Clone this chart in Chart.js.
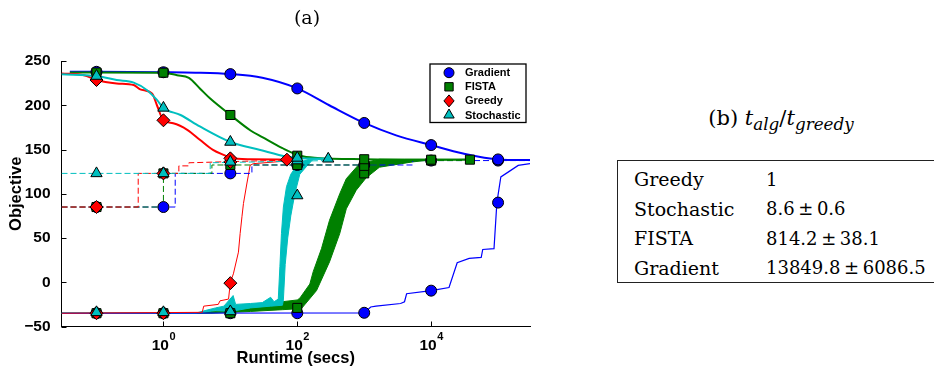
<!DOCTYPE html>
<html>
<head>
<meta charset="utf-8">
<script src="https://cdn.jsdelivr.net/npm/chart.js@4.4.1/dist/chart.umd.min.js"></script>
<style>
  html, body { margin: 0; padding: 0; background: #fff; }
  #page { position: relative; width: 934px; height: 368px; overflow: hidden; }
  #plot { position: absolute; left: 0; top: 0; width: 560px; height: 368px; }
  .serif { position: absolute; font-family: "DejaVu Serif", serif; font-size: 19px; color: #000; white-space: nowrap; line-height: 1; }
  .serif sub { font-size: 0.8em; vertical-align: -0.3em; }
  .num { font-size: 18px; }
  #tbl { position: absolute; left: 617px; top: 160px; width: 340px; height: 121px; border: 1.3px solid #222; }
</style>
</head>
<body>
<div id="page">
  <div id="plot"><canvas id="chart"></canvas></div>
  <div class="serif" style="left:307px; top:17px; transform:translate(-50%,-50%);">(a)</div>
  <div class="serif" style="left:781px; top:108px; font-size:21px; transform:translateX(-50%);">(b) <i>t</i><sub><i>alg</i></sub>/<i>t</i><sub><i>greedy</i></sub></div>
  <div id="tbl"></div>
</div>
<script>
// --- series (runtime in secs, objective) ---
const seriesNames = ["Gradient", "FISTA", "Greedy", "Stochastic"];

// thick curves
const gradT = [0.04, 0.1, 1, 3, 10, 30, 100, 300, 1000, 3000, 1e4, 3e4, 1e5, 3e5];
const gradV = [237.8, 237.8, 237.3, 236.8, 235.2, 231, 219, 200, 180, 166, 155, 145.5, 138.8, 138];
const fistaT = [0.04, 0.1, 1, 1.6, 2.4, 3.5, 5, 10, 20, 30, 60, 110, 200, 1000, 1e4, 3.8e4];
const fistaV = [237, 237, 236.8, 234, 231, 219, 207.5, 189, 171.5, 164, 151.5, 143, 140.5, 139, 138.5, 138.5];
const greedyT = [0.03, 0.065, 0.1, 0.2, 0.36, 0.45, 0.68, 0.8, 1, 1.4, 2.3, 3.5, 5.5, 9, 10, 20, 70];
const greedyV = [236, 234, 228.5, 224.7, 222.8, 218, 213, 200, 183, 179.6, 172, 161, 149.5, 142, 140, 139, 138.5];
const stochT = [0.03, 0.1, 0.2, 0.36, 0.57, 0.8, 1, 1.8, 3.5, 10, 28, 70, 100, 290];
const stochV = [235, 233, 228.5, 225.5, 217, 206, 197, 189, 176, 158.5, 149.5, 142, 140.5, 139.5];

// dashed step curves
const blueDashT = [0.03, 1.5, 1.5, 21, 21, 5300, 5300, 3e5];
const blueDashV = [85, 85, 123, 123, 132.5, 132.5, 137.5, 137.5];
const greenDashT = [0.03, 1, 1, 5.3, 5.3, 1500, 1500, 3.8e4];
const greenDashV = [85, 85, 123, 123, 132.5, 132.5, 137.5, 137.5];
const redDashT = [0.03, 0.42, 0.42, 1.7, 1.7, 2.4, 2.4, 70];
const redDashV = [85, 85, 123, 123, 131.5, 131.5, 135, 138];
const cyanDashT = [0.03, 5, 5, 290];
const cyanDashV = [123, 123, 135, 137.5];

// thin rising curves
const blueLowT = [0.03, 1000, 1250, 1500, 3500, 4000, 4300, 1e4, 1.85e4, 2.45e4, 3.7e4, 5.6e4, 5.9e4, 8.7e4, 9.6e4, 1.1e5, 1.45e5, 2e5, 3e5];
const blueLowV = [-35, -34.5, -28, -27, -24, -22, -13, -9.5, -6, 22, 27, 28, 37, 38, 90, 119, 125, 132, 134];
const redLowT = [0.03, 3.8, 4, 6.6, 7, 9.4, 10, 11.1, 13.2, 14, 14.9, 15.7, 17.6, 18.6, 19.7, 22, 70];
const redLowV = [-35, -34, -27, -25, -21, -19, 0, 9.5, 34, 55, 74, 89, 111, 121, 132, 134, 137];

// noisy bands (upper / lower edges)
const cyanUpT = [0.03, 3, 4.2, 6, 8, 11, 12, 20, 30, 40, 45, 52, 55, 58, 62, 69, 80, 105, 150, 290];
const cyanUpV = [-35, -35, -32, -29, -27, -15, -25, -24, -23, -17, -22, -19, 18, 55, 85, 108, 122, 135, 139, 139.5];
const cyanLoT = [0.03, 3, 6, 10, 20, 40, 60, 62, 66, 72, 80, 92, 109, 138, 173, 290];
const cyanLoV = [-35, -35, -32, -33, -29, -27, -26, -20, 20, 50, 75, 100, 122, 131, 139, 139.5];
const greenUpT = [0.03, 3, 5, 10, 20, 40, 60, 100, 109, 154, 173, 230, 303, 431, 540, 852, 1690, 4000, 3.8e4];
const greenUpV = [-35, -35, -33, -32, -29, -25, -22, -20, -18, -2, 12, 38, 70, 100, 117, 134, 139, 139, 139];
const greenLoT = [0.03, 5, 20, 60, 100, 109, 194, 303, 431, 540, 760, 1070, 1690, 5300, 9400, 3.8e4];
const greenLoV = [-35, -35, -33, -31, -30, -32, -9.4, 23, 55, 83, 104, 118, 130, 136, 138, 139];

// markers
const gradMarkT = [0.1, 1, 10, 100, 1000, 1e4, 1e5];
const gradMarkV = [237.8, 237.3, 235.2, 219, 180, 155, 138.8];
const fistaMarkT = [0.1, 1, 10, 100, 1000, 1e4, 3.8e4];
const fistaMarkV = [237, 236.8, 189, 143, 139, 138.5, 138.5];
const greedyMarkT = [0.1, 1, 10, 70];
const greedyMarkV = [228.5, 183, 140, 138.5];
const stochMarkT = [0.1, 1, 10, 100, 290];
const stochMarkV = [233, 197, 158.5, 140.5, 139.5];
const blueDashMarkT = [0.1, 1, 10, 100, 1000, 1e4, 1e5];
const blueDashMarkV = [85, 85, 123, 132.5, 132.5, 137.5, 137.5];
const greenDashMarkT = [0.1, 1, 10, 100, 1000, 1e4];
const greenDashMarkV = [85, 123, 132.5, 132.5, 131.5, 137.5];
const redDashMarkT = [0.1, 1, 10];
const redDashMarkV = [85, 123, 136];
const cyanDashMarkT = [0.1, 1, 10, 100];
const cyanDashMarkV = [123, 123, 136, 137.5];
const blueLowMarkT = [0.1, 1, 10, 100, 1000, 1e4, 1e5];
const blueLowMarkV = [-35, -35, -35, -35, -34.5, -9.5, 90];
const greenLowMarkT = [0.1, 1, 10, 100, 1000];
const greenLowMarkV = [-35, -35, -35, -29, 123];
const redLowMarkT = [0.1, 1, 10];
const redLowMarkV = [-35, -35, -1];
const cyanLowMarkT = [0.1, 1, 10, 100];
const cyanLowMarkV = [-34, -34, -33, 98];

const xTickVals = [1, 100, 1e4];
const yTickVals = [-50, 0, 50, 100, 150, 200, 250];

// table (b)
const tableAlgs = ["Greedy", "Stochastic", "FISTA", "Gradient"];
const tableRatios = ["1", "8.6\u2009±\u20090.6", "814.2\u2009±\u200938.1", "13849.8\u2009±\u20096086.5"];

const BLUE = "#0000FF", GREEN = "#008000", RED = "#FF0000", CYAN = "#00BFBF";
const legendStyles = [["circle", BLUE], ["rect", GREEN], ["rectRot", RED], ["triangle", CYAN]];
const markR = {circle: 5.5, rect: 6.4, rectRot: 6.5, triangle: 6.5};

function pts(t, v) { return t.map((x, i) => ({x: x, y: v[i]})); }

function curve(t, v, color, width, dash, smooth) {
  return {
    data: pts(t, v), borderColor: color, backgroundColor: color, borderWidth: width,
    borderDash: dash || [], pointRadius: 0, pointHoverRadius: 0, fill: false,
    cubicInterpolationMode: smooth ? "monotone" : "default", tension: 0
  };
}

function marks(t, v, style, color) {
  return {
    data: pts(t, v), showLine: false, pointStyle: style, pointRadius: markR[style],
    pointHoverRadius: markR[style], pointBackgroundColor: color, pointBorderColor: "#000",
    pointBorderWidth: 1, clip: false
  };
}

function band(tu, vu, tl, vl, color) {
  const up = curve(tu, vu, color, 1);
  const lo = curve(tl, vl, color, 1);
  lo.fill = "-1";
  return [up, lo];
}

const dash = [6, 3];
const datasets = [
  marks(stochMarkT, stochMarkV, "triangle", CYAN),
  marks(cyanDashMarkT, cyanDashMarkV, "triangle", CYAN),
  marks(cyanLowMarkT, cyanLowMarkV, "triangle", CYAN),
  marks(greedyMarkT, greedyMarkV, "rectRot", RED),
  marks(redDashMarkT, redDashMarkV, "rectRot", RED),
  marks(redLowMarkT, redLowMarkV, "rectRot", RED),
  marks(fistaMarkT, fistaMarkV, "rect", GREEN),
  marks(greenDashMarkT, greenDashMarkV, "rect", GREEN),
  marks(greenLowMarkT, greenLowMarkV, "rect", GREEN),
  marks(gradMarkT, gradMarkV, "circle", BLUE),
  marks(blueDashMarkT, blueDashMarkV, "circle", BLUE),
  marks(blueLowMarkT, blueLowMarkV, "circle", BLUE),
  curve(stochT, stochV, CYAN, 2, null, true),
  curve(greedyT, greedyV, RED, 2, null, true),
  curve(fistaT, fistaV, GREEN, 2, null, true),
  curve(gradT, gradV, BLUE, 2, null, true),
  curve(cyanDashT, cyanDashV, CYAN, 1, dash),
  curve(redDashT, redDashV, RED, 1, dash),
  curve(greenDashT, greenDashV, GREEN, 1, dash),
  curve(blueDashT, blueDashV, BLUE, 1, dash),
  curve(redLowT, redLowV, RED, 1),
  curve(blueLowT, blueLowV, BLUE, 1.2),
  ...band(cyanUpT, cyanUpV, cyanLoT, cyanLoV, CYAN),
  ...band(greenUpT, greenUpV, greenLoT, greenLoV, GREEN)
];

const SANS = '"Liberation Sans", Arial, sans-serif';

function shape(ctx, style, x, y, r) {
  ctx.beginPath();
  if (style === "circle") {
    ctx.arc(x, y, r, 0, Math.PI * 2);
  } else if (style === "rect") {
    const s = r * Math.SQRT1_2;
    ctx.rect(x - s, y - s, 2 * s, 2 * s);
  } else if (style === "rectRot") {
    ctx.moveTo(x, y - r); ctx.lineTo(x + r * 0.85, y); ctx.lineTo(x, y + r); ctx.lineTo(x - r * 0.85, y);
    ctx.closePath();
  } else {
    ctx.moveTo(x, y - r); ctx.lineTo(x + r * 0.866, y + r / 2); ctx.lineTo(x - r * 0.866, y + r / 2);
    ctx.closePath();
  }
  ctx.fill();
  ctx.stroke();
}

const axisDecor = {
  id: "axisDecor",
  afterDraw(chart) {
    const {ctx, chartArea: a, scales: {x, y}} = chart;
    ctx.save();
    ctx.strokeStyle = "#000";
    ctx.lineWidth = 1;
    ctx.beginPath();
    xTickVals.forEach(v => {
      const px = Math.round(x.getPixelForValue(v)) + 0.5;
      ctx.moveTo(px, a.bottom); ctx.lineTo(px, a.bottom - 5);
    });
    yTickVals.forEach(v => {
      const py = Math.round(y.getPixelForValue(v)) + 0.5;
      ctx.moveTo(a.left, py); ctx.lineTo(a.left + 5, py);
    });
    ctx.stroke();

    // 10^n tick labels
    ctx.fillStyle = "#000";
    ctx.textAlign = "left";
    ctx.textBaseline = "alphabetic";
    const big = "bold 15.5px " + SANS, small = "bold 11px " + SANS;
    xTickVals.forEach(v => {
      const px = x.getPixelForValue(v);
      const e = String(Math.round(Math.log10(v)));
      ctx.font = big;
      const w1 = ctx.measureText("10").width;
      ctx.font = small;
      const w2 = ctx.measureText(e).width;
      const x0 = px - (w1 + w2) / 2;
      ctx.font = big;
      ctx.fillText("10", x0, a.bottom + 23.5);
      ctx.font = small;
      ctx.fillText(e, x0 + w1 + 0.5, a.bottom + 13.5);
    });

    // legend box inside the axes
    const lw = 96, lh = 58.5;
    const lx = a.right - lw - 4, ly = a.top + 3;
    ctx.fillStyle = "#fff";
    ctx.fillRect(lx, ly, lw, lh);
    ctx.lineWidth = 1.3;
    ctx.strokeRect(lx, ly, lw, lh);
    ctx.lineWidth = 1;
    ctx.textBaseline = "middle";
    seriesNames.forEach((name, i) => {
      const cy = ly + 8.7 + i * 14.1;
      const [style, color] = legendStyles[i];
      ctx.fillStyle = color;
      ctx.strokeStyle = "#000";
      shape(ctx, style, lx + 19, cy, markR[style] - 0.5);
      ctx.fillStyle = "#000";
      ctx.font = "bold 11px " + SANS;
      ctx.fillText(name, lx + 35, cy + 0.5);
    });
    ctx.restore();
  }
};

new Chart(document.getElementById("chart"), {
  type: "line",
  data: { datasets: datasets },
  plugins: [axisDecor],
  options: {
    responsive: true,
    maintainAspectRatio: false,
    animation: false,
    events: [],
    layout: { padding: { left: 0, right: 30, top: 61, bottom: 0 } },
    plugins: { legend: { display: false }, tooltip: { enabled: false } },
    scales: {
      x: {
        type: "logarithmic",
        min: 0.03,
        max: 3e5,
        grid: { display: false },
        border: { display: true, color: "#000", width: 1 },
        ticks: { display: false },
        title: { display: true, text: "Runtime (secs)", color: "#000",
                 font: { family: SANS, size: 16.5, weight: "bold" }, padding: { top: 0, bottom: 0 } },
        afterFit(scale) { scale.height = 41.5; }
      },
      y: {
        min: -50,
        max: 250,
        grid: { display: false },
        border: { display: true, color: "#000", width: 1 },
        ticks: {
          stepSize: 50, padding: 3, color: "#000",
          font: { family: SANS, size: 15.5, weight: "bold" },
          callback: v => (v < 0 ? "\u2212" + Math.abs(v) : String(v))
        },
        title: { display: true, text: "Objective", color: "#000",
                 font: { family: SANS, size: 16.5, weight: "bold" }, padding: { top: 7, bottom: 0 } },
        afterFit(scale) { scale.width = 61.5; }
      }
    }
  }
});

// table (b)
const tbl = document.getElementById("tbl");
tableAlgs.forEach((alg, i) => {
  const top = 9 + i * 29.5;
  const a = document.createElement("div");
  a.className = "serif";
  a.style.left = "16px"; a.style.top = top + "px";
  a.textContent = alg;
  const b = document.createElement("div");
  b.className = "serif num";
  b.style.left = "148px"; b.style.top = (top + 0.5) + "px";
  b.textContent = tableRatios[i];
  tbl.appendChild(a); tbl.appendChild(b);
});
</script>
</body>
</html>
